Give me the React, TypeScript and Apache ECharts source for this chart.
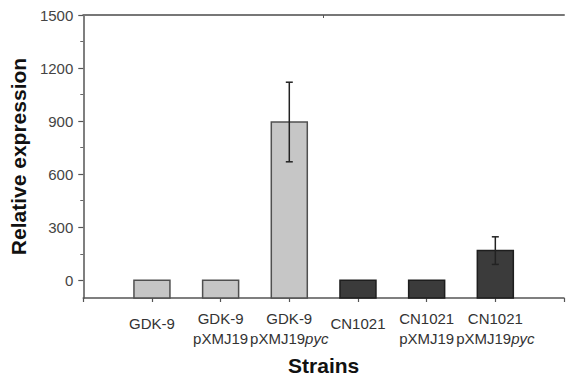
import React, { useEffect, useRef } from "react";
import * as echarts from "echarts";

// Data
const strainHost = ["GDK-9", "GDK-9", "GDK-9", "CN1021", "CN1021", "CN1021"];
const strainPlasmid = ["", "pXMJ19", "pXMJ19pyc", "", "pXMJ19", "pXMJ19pyc"];
const expression = [1, 1, 895, 1, 1, 168];
const expressionErr = [0, 0, 225, 0, 0, 78];
const yMajorTicks = [0, 300, 600, 900, 1200, 1500];
const yMinorTicks = [150, 450, 750, 1050, 1350];

const hostFill: Record<string, string> = { "GDK-9": "#c6c6c6", CN1021: "#3b3b3b" };
const hostStroke: Record<string, string> = { "GDK-9": "#505050", CN1021: "#1e1e1e" };

// categories padded with empty slots at both ends (axis 0..7)
const categories = ["", ...strainHost.map((_, i) => String(i)), ""];

const Y_MIN = -100;
const Y_MAX = 1500;

function labelFor(i: number): string {
  const host = strainHost[i];
  const pl = strainPlasmid[i];
  if (!pl) return `{s|${host}}`;
  let second = `{n|${pl}}`;
  if (pl.endsWith("pyc")) second = `{n|${pl.slice(0, -3)}}{i|pyc}`;
  return `{n|${host}}\n${second}`;
}

export default function App() {
  const ref = useRef<HTMLDivElement>(null);
  useEffect(() => {
    if (!ref.current) return;
    const chart = echarts.init(ref.current, undefined, { renderer: "svg" });
    const barData = expression.map((v, i) => [i + 1, v]);
    const errData = expression.map((v, i) => [i + 1, v, expressionErr[i]]);
    const font = "'Liberation Sans', Arial, sans-serif";
    chart.setOption({
      animation: false,
      grid: { left: 82, width: 487, top: 15, height: 288, containLabel: false },
      xAxis: [
        {
          type: "category",
          data: categories,
          boundaryGap: false,
          position: "bottom",
          axisLine: { onZero: false, lineStyle: { color: "#555", width: 1.5 } },
          axisTick: { show: true, length: 4, inside: false, lineStyle: { color: "#555", width: 1.2 } },
          splitLine: { show: false },
          axisLabel: {
            interval: 0,
            margin: 10,
            color: "#333",
            fontFamily: font,
            formatter: (val: string, idx: number) => {
              if (idx === 0 || idx === categories.length - 1) return "";
              return labelFor(idx - 1);
            },
            rich: {
              n: { fontSize: 15, fontFamily: font, color: "#333", lineHeight: 20 },
              s: { fontSize: 15, fontFamily: font, color: "#333", lineHeight: 30 },
              i: { fontSize: 15, fontFamily: font, color: "#333", fontStyle: "italic", lineHeight: 20 },
            },
          },
          name: "Strains",
          nameLocation: "middle",
          nameGap: 57,
          nameTextStyle: { fontSize: 21, fontWeight: "bold", fontFamily: font, color: "#111", verticalAlign: "top" },
        },
        {
          type: "value",
          min: 0,
          max: 7,
          position: "top",
          axisLine: { show: true, onZero: false, lineStyle: { color: "#777", width: 2 } },
          axisTick: { show: true, inside: true, length: 3, customValues: [3.5], lineStyle: { color: "#555" } },
          axisLabel: { show: false },
          splitLine: { show: false },
        },
      ],
      yAxis: [
        {
          type: "value",
          min: Y_MIN,
          max: Y_MAX,
          position: "left",
          axisLine: { show: true, onZero: false, lineStyle: { color: "#555", width: 1.5 } },
          axisTick: { show: true, length: 5, inside: false, customValues: yMajorTicks, lineStyle: { color: "#555", width: 1.2 } },
          axisLabel: {
            customValues: yMajorTicks,
            margin: 10,
            fontSize: 15,
            color: "#444",
            fontFamily: font,
            formatter: (v: number) => String(v),
          },
          splitLine: { show: false },
          name: "Relative expression",
          nameLocation: "middle",
          nameGap: 53,
          nameTextStyle: { fontSize: 21, fontWeight: "bold", fontFamily: font, color: "#111" },
        },
        {
          type: "value",
          min: Y_MIN,
          max: Y_MAX,
          position: "left",
          axisLine: { show: false, onZero: false },
          axisTick: { show: true, length: 3, inside: false, customValues: yMinorTicks, lineStyle: { color: "#666", width: 1 } },
          axisLabel: { show: false },
          splitLine: { show: false },
        },
      ],
      series: [
        {
          type: "custom",
          xAxisIndex: 0,
          yAxisIndex: 0,
          data: barData,
          renderItem: (params: any, api: any) => {
            const idx = api.value(0);
            const v = api.value(1);
            const base = api.coord([idx, Y_MIN]);
            const top = api.coord([idx, v]);
            const w = 36;
            const host = strainHost[idx - 1];
            return {
              type: "rect",
              shape: { x: base[0] - w / 2, y: top[1], width: w, height: base[1] - top[1] },
              style: { fill: hostFill[host], stroke: hostStroke[host], lineWidth: 1.5 },
            };
          },
        },
        {
          type: "custom",
          xAxisIndex: 0,
          yAxisIndex: 0,
          data: errData,
          z: 3,
          renderItem: (params: any, api: any) => {
            const idx = api.value(0);
            const v = api.value(1);
            const e = api.value(2);
            if (!e) return { type: "group", children: [] };
            const hi = api.coord([idx, v + e]);
            const lo = api.coord([idx, v - e]);
            const cw = 3.5;
            const st = { stroke: "#222", lineWidth: 1.5 };
            return {
              type: "group",
              children: [
                { type: "line", shape: { x1: hi[0], y1: hi[1], x2: lo[0], y2: lo[1] }, style: st },
                { type: "line", shape: { x1: hi[0] - cw, y1: hi[1], x2: hi[0] + cw, y2: hi[1] }, style: st },
                { type: "line", shape: { x1: lo[0] - cw, y1: lo[1], x2: lo[0] + cw, y2: lo[1] }, style: st },
              ],
            };
          },
        },
      ],
    });
    return () => chart.dispose();
  }, []);
  return (
    <div
      ref={ref}
      style={{ position: "fixed", left: 0, top: 0, width: 567, height: 381, background: "#fff" }}
    />
  );
}
